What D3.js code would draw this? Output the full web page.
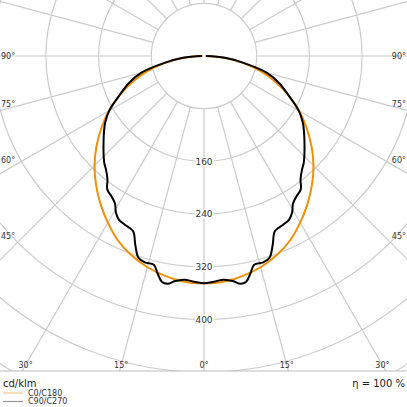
<!DOCTYPE html>
<html><head><meta charset="utf-8">
<script src="https://cdn.jsdelivr.net/npm/d3@7"></script>
<style>body{margin:0;background:#fff}svg{display:block;font-family:"DejaVu Sans",sans-serif}</style>
</head><body><svg id="c" width="407" height="407"></svg>
<script>
const ringValues = [80,160,240,320,400,480,560,640];
const ringLabels = [160,240,320,400];
const spokeAngles = d3.range(0,360,15);
const edgeLabelAngles = [0,15,30,45,60,75,90];
const c0Angles = [0,5,10,15,20,25,30,35,40,45,50,55,60,65,70,75,80,85,90];
const c0Values = [345,344,339,332,322,309,292,274,255,235,213,190,167,142,116,89,60,30,2];
const c90Angles = [0,2.5,5,7.5,9,10.5,12,13.5,16,18,20,22,25,27.5,29.5,31,33,36,38,40.7,43,46,50,53,56,60,64.5,70,75,80,85,90];
const c90Values = [345,343,341,345,350,349,338,326,326,322,305,287,283,280,272,262,256,250,238,228,222,212,199,190,181,166,144,122,99,62,32,3];
const legendNames = ["C0/C180","C90/C270"];

const W=407, cx=204, cy=56, bottomY=371;
const svg=d3.select("#c");
const r=d3.scaleLinear().domain([0,80]).range([0,52.7]);
svg.append("defs").append("clipPath").attr("id","clip").append("rect").attr("x",0).attr("y",0).attr("width",W).attr("height",bottomY);
const g=svg.append("g").attr("clip-path","url(#clip)");
const grid="#cccccc";
g.selectAll("circle.ring").data(ringValues).join("circle").attr("cx",cx).attr("cy",cy).attr("r",d=>r(d)).attr("fill","none").attr("stroke",grid).attr("stroke-width",1.2);
g.selectAll("line.spoke").data(spokeAngles).join("line")
 .attr("x1",d=>cx+r(80)*Math.sin(d*Math.PI/180)).attr("y1",d=>cy+r(80)*Math.cos(d*Math.PI/180))
 .attr("x2",d=>cx+r(1000)*Math.sin(d*Math.PI/180)).attr("y2",d=>cy+r(1000)*Math.cos(d*Math.PI/180))
 .attr("stroke",grid).attr("stroke-width",1.2);
g.selectAll("text.rl").data(ringLabels).join("text").attr("x",cx).attr("y",d=>cy+r(d)).attr("dy","0.35em")
 .attr("text-anchor","middle").attr("font-size",9).attr("fill","#333").attr("stroke","#fff").attr("stroke-width",3).attr("paint-order","stroke").text(d=>d);

function curve(angles,values){
  const pts=[];
  for(let i=angles.length-1;i>=0;i--) pts.push([Math.PI+angles[i]*Math.PI/180, r(values[i])]);
  for(let i=1;i<angles.length;i++) pts.push([Math.PI-angles[i]*Math.PI/180, r(values[i])]);
  return d3.lineRadial().curve(d3.curveCatmullRom)(pts);
}
const pg=g.append("g").attr("transform",`translate(${cx},${cy})`);
pg.append("path").attr("d",curve(c0Angles,c0Values)).attr("fill","none").attr("stroke","#f0900a").attr("stroke-width",2);
pg.append("path").attr("d",curve(c90Angles,c90Values)).attr("fill","none").attr("stroke","#000").attr("stroke-width",2);

// edge angle labels
const labY=365;
edgeLabelAngles.forEach(a=>{
  const t=Math.tan(a*Math.PI/180);
  const dx=(labY-cy)*t;
  [-1,1].forEach(s=>{
    if(a===0&&s<0) return;
    let x,y,anchor="middle";
    if(Math.abs(dx)<=180){x=cx+s*dx;y=labY;}
    else{y=cy+ (a===90?0:180/t); x=s<0?1:406; anchor=s<0?"start":"end";}
    svg.append("text").attr("x",x).attr("y",y).attr("dy","0.35em").attr("text-anchor",anchor)
     .attr("font-size",8).attr("fill","#333").text(a+"°");
  });
});
svg.append("line").attr("x1",0).attr("x2",W).attr("y1",bottomY).attr("y2",bottomY).attr("stroke","#bbb").attr("stroke-width",1);
svg.append("text").attr("x",3).attr("y",383).attr("dy","0.35em").attr("font-size",10).attr("fill","#222").text("cd/klm");
svg.append("text").attr("x",405).attr("y",383).attr("dy","0.35em").attr("text-anchor","end").attr("font-size",10).attr("fill","#222").text("η = 100 %");
const lc=["#f5c88a","#999"];
legendNames.forEach((n,i)=>{
  const y=393+i*8.5;
  svg.append("line").attr("x1",3).attr("x2",23).attr("y1",y).attr("y2",y).attr("stroke",lc[i]).attr("stroke-width",1.2);
  svg.append("text").attr("x",28).attr("y",y).attr("dy","0.35em").attr("font-size",8).attr("fill","#333").text(n);
});
</script></body></html>
